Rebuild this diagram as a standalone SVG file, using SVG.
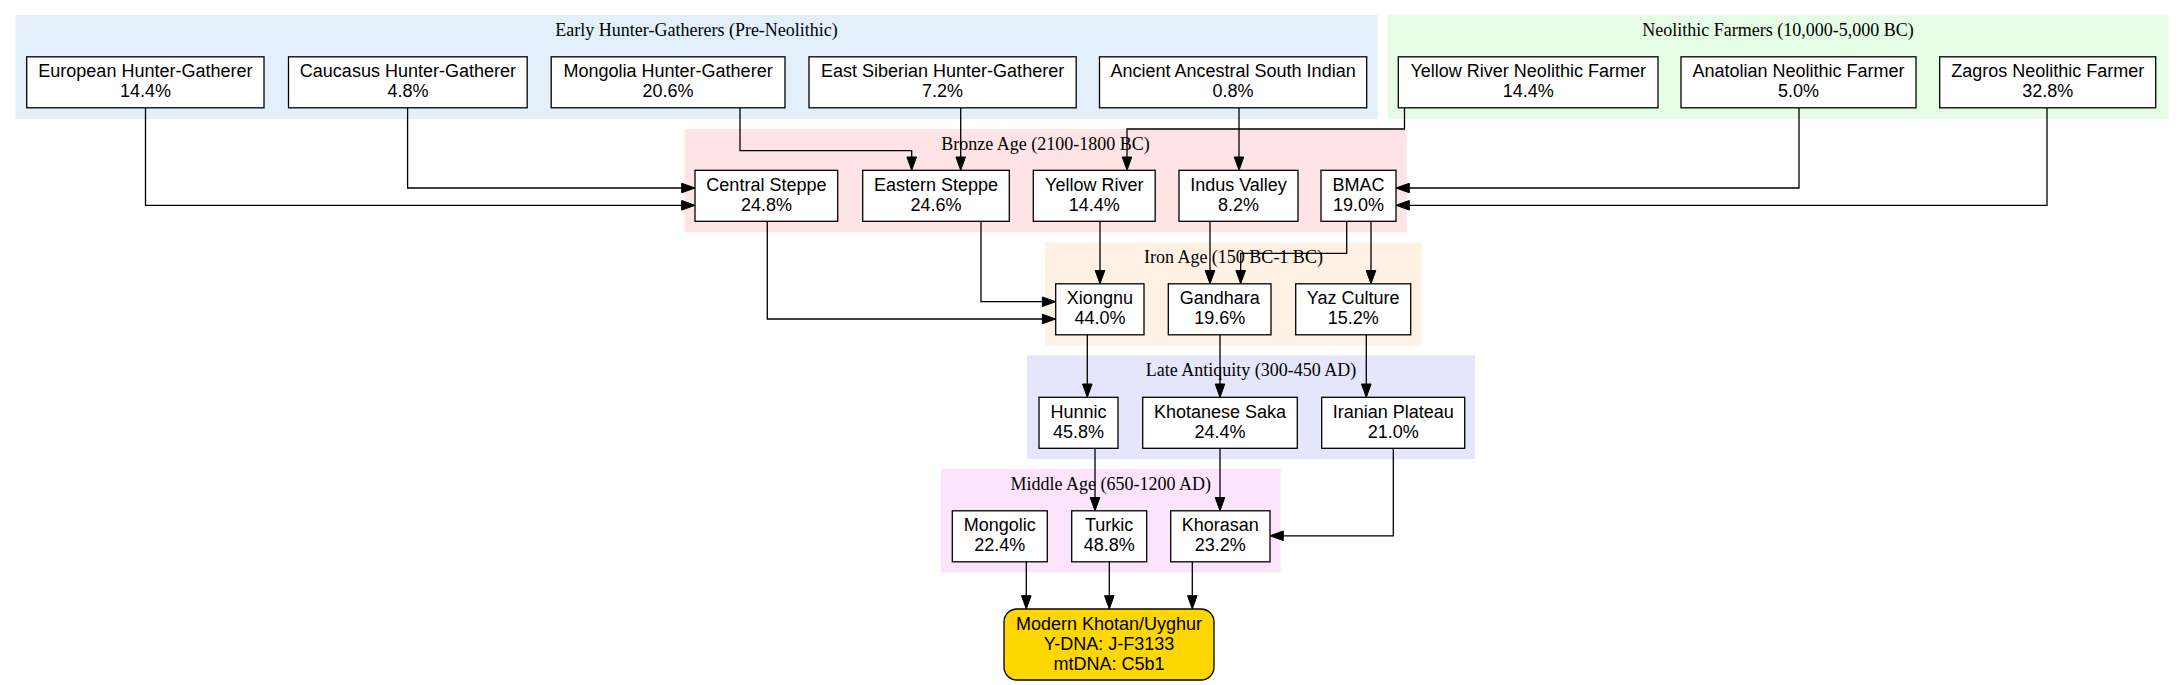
<svg xmlns="http://www.w3.org/2000/svg" width="2183" height="685" viewBox="0 0 2183 685">
<style>
  .cl { stroke: none; }
  .ct { font-family: "Liberation Serif", "Times New Roman", serif; font-size: 18px; text-anchor: middle; fill: #000; }
  .node rect { fill: #ffffff; stroke: #000; stroke-width: 1.3; }
  .node text { font-family: "Liberation Sans", Arial, sans-serif; font-size: 18px; text-anchor: middle; fill: #000; }
  #edges path { fill: none; stroke: #000; stroke-width: 1.3; }
</style>
<defs>
  <marker id="arr" markerUnits="userSpaceOnUse" viewBox="0 -5 13.3 10" refX="0" refY="0" markerWidth="13.3" markerHeight="10" orient="auto" overflow="visible">
    <path d="M0,-4.8 L13.3,0 L0,4.8 Z" fill="#000" stroke="#000" stroke-width="1"/>
  </marker>
</defs>
<rect width="2183" height="685" fill="#ffffff"/>

<g id="clusters">
  <g id="cluster-early">
    <rect class="cl" x="15.6" y="15" width="1362.1" height="104" fill="#E3F0FC"/>
    <text class="ct" x="696.6" y="35.5">Early Hunter-Gatherers (Pre-Neolithic)</text>
  </g>
  <g id="cluster-neolithic">
    <rect class="cl" x="1387.5" y="15" width="781" height="104" fill="#E5FDE5"/>
    <text class="ct" x="1778" y="35.5">Neolithic Farmers (10,000-5,000 BC)</text>
  </g>
  <g id="cluster-bronze">
    <rect class="cl" x="684.5" y="129" width="722.2" height="103" fill="#FEE4E4"/>
    <text class="ct" x="1045.6" y="149.5">Bronze Age (2100-1800 BC)</text>
  </g>
  <g id="cluster-iron">
    <rect class="cl" x="1045" y="242.5" width="376.7" height="103" fill="#FFF1E4"/>
    <text class="ct" x="1233.4" y="263">Iron Age (150 BC-1 BC)</text>
  </g>
  <g id="cluster-late">
    <rect class="cl" x="1027" y="355.5" width="448" height="103.5" fill="#E5E5FC"/>
    <text class="ct" x="1251" y="376">Late Antiquity (300-450 AD)</text>
  </g>
  <g id="cluster-middle">
    <rect class="cl" x="941" y="469" width="339.7" height="103.3" fill="#FCE4FC"/>
    <text class="ct" x="1110.8" y="489.5">Middle Age (650-1200 AD)</text>
  </g>
</g>

<g id="edges">
  <path d="M145.5,107.8 V205.3 H681.7" marker-end="url(#arr)"/>
  <path d="M407.6,107.8 V188 H681.7" marker-end="url(#arr)"/>
  <path d="M740,107.8 V150.7 H911.7 V157" marker-end="url(#arr)"/>
  <path d="M960.7,107.8 V157" marker-end="url(#arr)"/>
  <path d="M1404.5,107.8 V129 H1127 V157" marker-end="url(#arr)"/>
  <path d="M1239,107.8 V157" marker-end="url(#arr)"/>
  <path d="M1799,107.8 V188 H1409.3" marker-end="url(#arr)"/>
  <path d="M2047,107.8 V205.3 H1409.3" marker-end="url(#arr)"/>
  <path d="M767.3,221.3 V319 H1042.4" marker-end="url(#arr)"/>
  <path d="M981,221.3 V301.7 H1042.4" marker-end="url(#arr)"/>
  <path d="M1100,221.3 V270.5" marker-end="url(#arr)"/>
  <path d="M1210,221.3 V270.5" marker-end="url(#arr)"/>
  <path d="M1346.7,221.3 V253.3 H1240.7 V270.5" marker-end="url(#arr)"/>
  <path d="M1371,221.3 V270.5" marker-end="url(#arr)"/>
  <path d="M1087.3,334.8 V384" marker-end="url(#arr)"/>
  <path d="M1220,334.8 V384" marker-end="url(#arr)"/>
  <path d="M1366.3,334.8 V384" marker-end="url(#arr)"/>
  <path d="M1095,448.3 V497.5" marker-end="url(#arr)"/>
  <path d="M1220,448.3 V497.5" marker-end="url(#arr)"/>
  <path d="M1393.3,448.3 V535.8 H1283.3" marker-end="url(#arr)"/>
  <path d="M1026.3,561.8 V595.7" marker-end="url(#arr)"/>
  <path d="M1109.3,561.8 V595.7" marker-end="url(#arr)"/>
  <path d="M1192.3,561.8 V595.7" marker-end="url(#arr)"/>
</g>

<g id="n-european" class="node"><rect x="26.7" y="56.8" width="237.3" height="51"/><text x="145.4" y="77.3">European Hunter-Gatherer</text><text x="145.4" y="97.3">14.4%</text></g>
<g id="n-caucasus" class="node"><rect x="288.5" y="56.8" width="238.7" height="51"/><text x="407.9" y="77.3">Caucasus Hunter-Gatherer</text><text x="407.9" y="97.3">4.8%</text></g>
<g id="n-mongolia" class="node"><rect x="551.2" y="56.8" width="233.8" height="51"/><text x="668.1" y="77.3">Mongolia Hunter-Gatherer</text><text x="668.1" y="97.3">20.6%</text></g>
<g id="n-eastsiberian" class="node"><rect x="809" y="56.8" width="267.2" height="51"/><text x="942.6" y="77.3">East Siberian Hunter-Gatherer</text><text x="942.6" y="97.3">7.2%</text></g>
<g id="n-aasi" class="node"><rect x="1099.5" y="56.8" width="267.2" height="51"/><text x="1233.1" y="77.3">Ancient Ancestral South Indian</text><text x="1233.1" y="97.3">0.8%</text></g>
<g id="n-yrnf" class="node"><rect x="1398.3" y="56.8" width="259.7" height="51"/><text x="1528.2" y="77.3">Yellow River Neolithic Farmer</text><text x="1528.2" y="97.3">14.4%</text></g>
<g id="n-anatolian" class="node"><rect x="1681" y="56.8" width="235" height="51"/><text x="1798.5" y="77.3">Anatolian Neolithic Farmer</text><text x="1798.5" y="97.3">5.0%</text></g>
<g id="n-zagros" class="node"><rect x="1939.7" y="56.8" width="216" height="51"/><text x="2047.7" y="77.3">Zagros Neolithic Farmer</text><text x="2047.7" y="97.3">32.8%</text></g>

<g id="n-centralsteppe" class="node"><rect x="695" y="170.3" width="142.7" height="51"/><text x="766.4" y="190.8">Central Steppe</text><text x="766.4" y="210.8">24.8%</text></g>
<g id="n-easternsteppe" class="node"><rect x="862.7" y="170.3" width="146.6" height="51"/><text x="936" y="190.8">Eastern Steppe</text><text x="936" y="210.8">24.6%</text></g>
<g id="n-yellowriver" class="node"><rect x="1033.3" y="170.3" width="121.9" height="51"/><text x="1094.3" y="190.8">Yellow River</text><text x="1094.3" y="210.8">14.4%</text></g>
<g id="n-indus" class="node"><rect x="1179" y="170.3" width="119" height="51"/><text x="1238.5" y="190.8">Indus Valley</text><text x="1238.5" y="210.8">8.2%</text></g>
<g id="n-bmac" class="node"><rect x="1321" y="170.3" width="75" height="51"/><text x="1358.5" y="190.8">BMAC</text><text x="1358.5" y="210.8">19.0%</text></g>

<g id="n-xiongnu" class="node"><rect x="1055.7" y="283.8" width="88.3" height="51"/><text x="1099.9" y="304.3">Xiongnu</text><text x="1099.9" y="324.3">44.0%</text></g>
<g id="n-gandhara" class="node"><rect x="1168.3" y="283.8" width="102.7" height="51"/><text x="1219.7" y="304.3">Gandhara</text><text x="1219.7" y="324.3">19.6%</text></g>
<g id="n-yaz" class="node"><rect x="1295.7" y="283.8" width="115" height="51"/><text x="1353.2" y="304.3">Yaz Culture</text><text x="1353.2" y="324.3">15.2%</text></g>

<g id="n-hunnic" class="node"><rect x="1039" y="397.3" width="79" height="51"/><text x="1078.5" y="417.8">Hunnic</text><text x="1078.5" y="437.8">45.8%</text></g>
<g id="n-khotanese" class="node"><rect x="1142.7" y="397.3" width="154.6" height="51"/><text x="1220" y="417.8">Khotanese Saka</text><text x="1220" y="437.8">24.4%</text></g>
<g id="n-iranian" class="node"><rect x="1321.7" y="397.3" width="143" height="51"/><text x="1393.2" y="417.8">Iranian Plateau</text><text x="1393.2" y="437.8">21.0%</text></g>

<g id="n-mongolic" class="node"><rect x="952.3" y="510.8" width="95" height="51"/><text x="999.8" y="531.3">Mongolic</text><text x="999.8" y="551.3">22.4%</text></g>
<g id="n-turkic" class="node"><rect x="1071.7" y="510.8" width="75" height="51"/><text x="1109.2" y="531.3">Turkic</text><text x="1109.2" y="551.3">48.8%</text></g>
<g id="n-khorasan" class="node"><rect x="1170.7" y="510.8" width="99.3" height="51"/><text x="1220.3" y="531.3">Khorasan</text><text x="1220.3" y="551.3">23.2%</text></g>

<g id="n-modern" class="node"><rect x="1004" y="609" width="210" height="71" rx="13" ry="13" style="fill:#FFD700"/><text x="1109" y="629.5">Modern Khotan/Uyghur</text><text x="1109" y="649.5">Y-DNA: J-F3133</text><text x="1109" y="669.5">mtDNA: C5b1</text></g>
</svg>
